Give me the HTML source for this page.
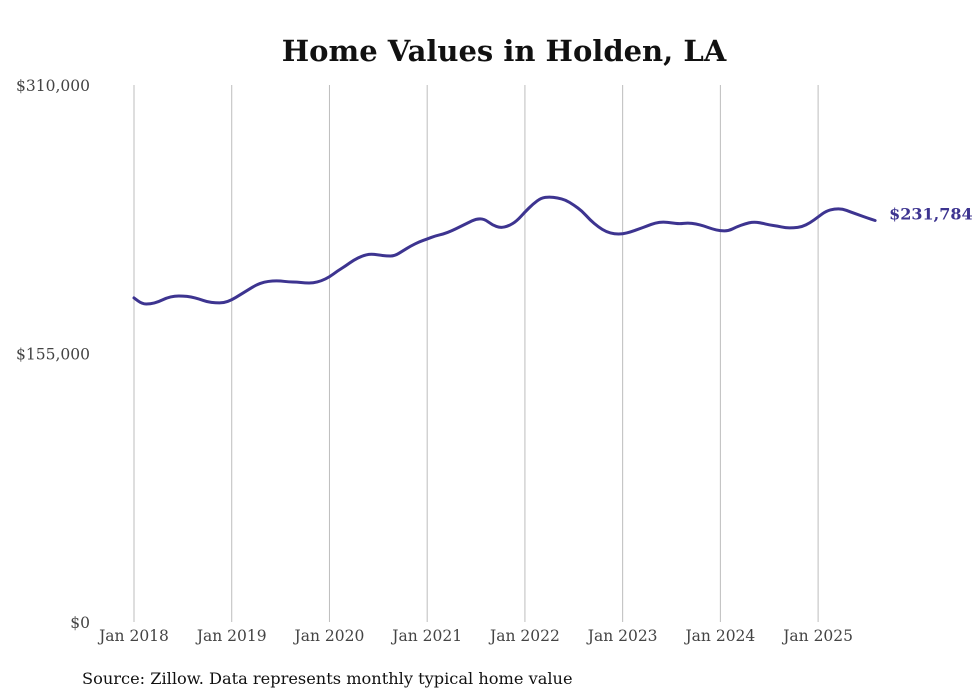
<!DOCTYPE html>
<html><head><meta charset="utf-8"><style>
body{margin:0;background:#fff;width:980px;height:699px;overflow:hidden}
svg{display:block}
text{font-family:"DejaVu Serif","Liberation Serif",serif}
</style></head><body>
<svg id="chart" width="980" height="699">
<text x="504" y="61" text-anchor="middle" font-size="29" font-weight="bold" fill="#111">Home Values in Holden, LA</text>
<g id="grid"></g>
<g id="yaxis"></g>
<g id="xaxis"></g>
<g id="series"></g>
<text x="82" y="684" font-size="16.2" fill="#111">Source: Zillow. Data represents monthly typical home value</text>
</svg>
<script>
const yTicks=[0,155000,310000];
const yTickLabels=["$0","$155,000","$310,000"];
const xYears=[2018,2019,2020,2021,2022,2023,2024,2025];
const xTickLabels=["Jan 2018","Jan 2019","Jan 2020","Jan 2021","Jan 2022","Jan 2023","Jan 2024","Jan 2025"];
const startYear=2018;
const values=[
187100,183600,183600,184800,187100,188200,188200,187700,186500,184800,184200,184200,
185900,188800,191700,194600,196300,196900,196900,196300,196300,195700,195700,196900,
199200,202700,205600,209000,211300,212500,211900,211300,211300,214200,217100,219400,
221100,222900,224000,225800,228100,230400,232700,232700,229200,227500,228600,231500,
236700,241300,244800,245400,244800,243600,240700,237300,232100,228100,225200,224000,
224000,225200,226900,228600,230400,231000,230400,229800,230400,229800,228600,226900,
225800,225800,228100,229800,231000,230400,229200,228600,227500,227500,228100,230400,
233800,237300,238500,238500,236700,235000,233300,231784];
const lastLabel="$231,784";
const X=d=>134+(d-startYear)*97.73;
const Y=v=>622-v/310000*537;
const ns="http://www.w3.org/2000/svg";
function mk(tag,attrs,parent,txt){const e=document.createElementNS(ns,tag);for(const k in attrs)e.setAttribute(k,attrs[k]);if(txt!==undefined)e.textContent=txt;parent.appendChild(e);return e;}
const grid=document.getElementById('grid'),ya=document.getElementById('yaxis'),xa=document.getElementById('xaxis'),sr=document.getElementById('series');
xYears.forEach((yr,i)=>{
 const gl=mk('line',{x1:X(yr),x2:X(yr),y1:Y(310000),y2:Y(0),stroke:'#bdbdbd','stroke-width':1},grid);
 
 
 const t=mk('text',{x:X(yr),y:641,'text-anchor':'middle','font-size':15.5,fill:'#444'},xa,xTickLabels[i]);
 
 
});
yTicks.forEach((v,i)=>{
 const t=mk('text',{x:90,y:Y(v)+6,'text-anchor':'end','font-size':15.5,fill:'#444'},ya,yTickLabels[i]);
 
 
});
const pts=values.map((v,i)=>[X(startYear+i/12),Y(v)]);
let d='M'+pts[0][0]+','+pts[0][1];
for(let i=1;i<pts.length;i++){const p0=pts[i-1],p1=pts[i];const mx=(p0[0]+p1[0])/2;d+=' Q'+p0[0]+','+p0[1]+' '+mx+','+((p0[1]+p1[1])/2);}
d+=' L'+pts[pts.length-1][0]+','+pts[pts.length-1][1];
const path=mk('path',{d:d,fill:'none',stroke:'#3d3490','stroke-width':3,'stroke-linejoin':'round','stroke-linecap':'round'},sr);


const last=pts[pts.length-1];
const lt=mk('text',{x:last[0]+14,y:last[1]-1,'font-size':16,'font-weight':'bold',fill:'#3d3490'},sr,lastLabel);


</script>
</body></html>
